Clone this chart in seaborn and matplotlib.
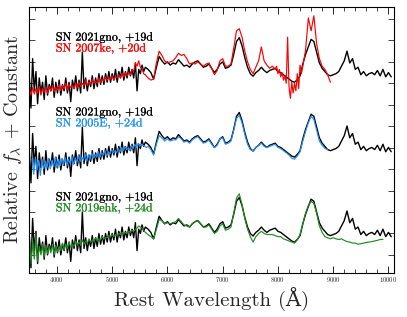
import numpy as np
import matplotlib
matplotlib.use('Agg')
import matplotlib.pyplot as plt
import matplotlib.patheffects as pe
import seaborn as sns
from matplotlib.ticker import MultipleLocator, NullFormatter

# SN 2021gno +19d, flux in the bottom panel's units (shifted up for the others)
gno_blue = [0.9, -0.6, 1.7, 0.2, 1.1, -0.4, 0.8, 0.1, 0.6, -0.2,
            0.9, 0.0, 0.5, 0.2, 0.8, -0.1, 0.6, 0.1, 0.7, 0.0,
            0.5, 0.2, 0.8, 0.1, 0.6, -0.3, 0.7, 0.3, 0.9, 0.2,
            0.7, 0.1, 2.0, 0.3, 0.8, 0.2, 0.7, 0.4, 0.9, 0.3,
            0.8, 0.4, 1.0, 0.5, 0.9, 0.5, 1.0, 0.6, 1.1, 0.6,
            1.0, 0.7, 1.2, 0.6, 1.1, 0.8, 1.3, 0.7, 1.1, 0.8,
            1.3, 0.9, 1.2, 0.8, 1.5, 0.2, 1.2, 1.0, 1.4, 1.1,
            1.3]
gno_red = [1.2, 1.05, 0.75, 1.3, 1.8, 1.6, 1.45, 1.55, 1.4, 1.5,
           1.45, 1.65, 1.5, 1.35, 1.4, 1.3, 1.45, 1.55, 1.6, 1.45,
           1.3, 1.35, 1.45, 1.25, 1.05, 1.2, 1.45, 1.55, 1.25, 1.3,
           1.4, 1.9, 2.5, 2.68, 2.3, 1.75, 1.3, 1.0, 0.88, 1.05,
           1.15, 1.3, 1.15, 1.05, 1.15, 1.2, 1.25, 1.1, 1.05, 0.95,
           0.85, 0.75, 0.65, 0.6, 0.72, 0.9, 1.45, 1.9, 2.25, 2.6,
           2.5, 2.0, 1.5, 1.25, 1.1, 0.95, 0.9, 0.95, 1.0, 1.1,
           1.35, 1.6, 2.05, 1.5, 1.7, 1.2, 1.3, 0.95, 1.1, 0.9,
           1.0, 1.05, 0.95, 1.15, 0.9, 1.2, 0.85, 1.05, 0.85]

# SN 2007ke +20d
ke_blue = [0.3, 0.0, 0.35, 0.05, 0.3, 0.1, 0.4, 0.0, 0.3, 0.15,
           0.35, 0.1, 0.4, 0.2, 0.45, 0.15, 0.35, 0.25, 0.5, 0.2,
           0.45, 0.3, 0.55, 0.25, 0.5, 0.35, 0.45, 0.3, 0.55, 0.35,
           0.6, 0.4, 0.55, 0.45, 0.7, 0.45, 0.6, 0.5, 0.75, 0.55,
           0.65, 0.55, 0.8, 0.6, 0.75, 0.65, 0.85, 0.7, 0.8, 0.75,
           0.9, 0.7, 0.85, 0.8, 0.95, 0.8, 1.0, 0.85, 1.05, 0.9,
           1.05, 0.95, 1.2, 1.1, 1.5, 1.35, 1.6, 1.3, 1.25, 1.0,
           0.95]
ke_mid = [0.8, 0.7, 0.75, 1.5, 2.05, 1.85, 1.6, 1.5, 1.55, 1.6,
          1.75, 1.95, 1.85, 1.9, 1.7, 1.45, 1.5, 1.45, 1.55, 1.45,
          1.35, 1.45, 1.5, 1.25, 0.95, 1.15, 1.6, 1.7, 1.35, 1.35,
          1.45, 2.2, 3.0, 3.1, 2.7, 2.05, 1.55, 1.2, 1.0, 1.3,
          1.6, 2.25, 1.6, 1.4, 1.25, 1.35]
ke_noisy = [1.2, 1.35, 1.0, 1.2, 0.85, 1.05, 0.7, 0.9, 0.55, 2.7,
            0.4, -0.15, 0.6, 0.1, 0.55, 0.2, 1.0, 0.3, 1.4, 1.0,
            1.35]
ke_red = [2.1, 3.6, 3.0, 3.7, 2.4, 1.7, 1.35, 1.2, 0.95, 0.6]

# SN 2005E +24d
e_blue = [0.5, -0.2, 0.6, 0.0, 0.45, -0.25, 0.5, 0.05, 0.4, 0.1,
          0.55, 0.05, 0.45, 0.15, 0.6, 0.1, 0.5, 0.2, 0.55, 0.25,
          0.6, 0.2, 0.5, 0.3, 0.65, 0.25, 0.55, 0.35, 0.7, 0.4,
          0.6, 0.45, 0.75, 0.4, 0.7, 0.5, 0.8, 0.55, 0.7, 0.6,
          0.85, 0.6, 0.8, 0.7, 0.9, 0.65, 0.85, 0.75, 0.95, 0.8,
          0.9, 0.8, 1.0, 0.85, 1.05, 0.9, 1.1, 0.95, 1.0, 0.9,
          1.15, 1.0, 1.2, 1.05, 1.25, 1.1, 1.2, 1.15, 1.1, 1.05]
e_red = [1.1, 0.95, 0.7, 1.2, 1.6, 1.5, 1.35, 1.45, 1.35, 1.4,
         1.4, 1.55, 1.45, 1.3, 1.35, 1.25, 1.4, 1.5, 1.55, 1.4,
         1.25, 1.3, 1.4, 1.2, 1.05, 1.15, 1.45, 1.5, 1.2, 1.25,
         1.35, 1.85, 2.4, 2.55, 2.2, 1.65, 1.2, 0.95, 0.9, 1.05,
         1.15, 1.25, 1.1, 1.05, 1.1, 1.15, 1.2, 1.05, 1.0, 0.9,
         0.8, 0.7, 0.55, 0.5, 0.65, 0.85, 1.35, 1.8, 2.2, 2.5,
         2.35, 1.85, 1.35, 1.15, 1.0, 0.95]

# SN 2019ehk +24d
ehk_blue = [0.9, -0.4, 0.6, -0.2, 1.0, -0.3, 0.4, 0.0, 0.5, -0.1,
            0.45, 0.05, 0.4, 0.1, 0.5, 0.0, 0.45, 0.15, 0.4, 0.2,
            0.55, 0.25, 0.5, 0.3, 0.6, 0.35, 0.5, 0.4, 0.65, 0.45,
            0.6, 0.45, 0.7, 0.5, 0.65, 0.55, 0.75, 0.6, 0.7, 0.65,
            0.8, 0.65, 0.75, 0.7, 0.85, 0.75, 0.8, 0.8, 0.9, 0.85,
            0.95, 0.85, 0.95, 0.9, 1.0, 0.95, 1.05, 1.0, 1.05, 1.0,
            1.1, 1.05, 1.15, 1.1, 1.2, 1.25, 1.35, 1.3, 1.25, 1.15,
            1.05]
ehk_red = [0.95, 0.85, 0.75, 1.2, 1.65, 1.6, 1.45, 1.5, 1.45, 1.5,
           1.55, 1.7, 1.55, 1.4, 1.35, 1.3, 1.45, 1.55, 1.6, 1.45,
           1.3, 1.3, 1.4, 1.2, 1.0, 1.1, 1.35, 1.45, 1.15, 1.2,
           1.3, 1.95, 2.65, 2.85, 2.35, 1.7, 1.2, 0.85, 0.6, 0.85,
           1.0, 1.1, 1.0, 0.95, 0.95, 0.95, 0.9, 0.85, 0.85, 0.75,
           0.7, 0.65, 0.6, 0.55, 0.7, 0.95, 1.45, 1.95, 2.3, 2.5,
           2.4, 1.95, 1.35, 1.05, 0.85, 0.8, 0.75, 0.8, 0.75, 0.72,
           0.75, 0.68, 0.62, 0.6, 0.55, 0.55, 0.5, 0.52, 0.55, 0.58,
           0.6, 0.62, 0.65, 0.68, 0.72, 0.72]

# panel offsets (top, middle, bottom) and labels
offsets = [7.45, 3.96, 0.0]
comp_names = ['SN 2007ke, +20d', 'SN 2005E, +24d', 'SN 2019ehk, +24d']
comp_colors = ['#ff0000', '#1e90ff', '#228b22']
ref_name = 'SN 2021gno, +19d'


def spec(*segs):
    # each segment: (flux values, first wavelength, last wavelength)
    w = np.concatenate([np.linspace(a, b, len(v)) for v, a, b in segs])
    f = np.concatenate([np.array(v, dtype=float) for v, a, b in segs])
    return w, f


gno_w, gno_f = spec((gno_blue, 3500, 5600), (gno_red, 5650, 10050))
comps = [spec((ke_blue, 3500, 5600), (ke_mid, 5650, 7900),
              (ke_noisy, 7950, 8450), (ke_red, 8500, 8950)),
         spec((e_blue, 3550, 5620), (e_red, 5650, 8900)),
         spec((ehk_blue, 3500, 5600), (ehk_red, 5650, 9900))]

sns.set_style('ticks')
plt.rcParams['font.family'] = ['cmr10', 'DejaVu Serif']
plt.rcParams['mathtext.fontset'] = 'cm'
plt.rcParams['axes.unicode_minus'] = False
plt.rcParams['axes.formatter.use_mathtext'] = True

fig = plt.figure(figsize=(4.07, 3.17), dpi=100)
ax = fig.add_axes([0.072, 0.139, 0.896, 0.839])

for off, (cw, cf), name, col in zip(offsets, comps, comp_names, comp_colors):
    sns.lineplot(x=gno_w, y=gno_f + off, ax=ax, color='black', lw=1.0,
                 estimator=None, sort=False)
    sns.lineplot(x=cw, y=cf + off, ax=ax, color=col, lw=0.85,
                 estimator=None, sort=False)
    for txt, c, dy in [(ref_name, 'black', 2.68), (name, col, 2.17)]:
        ax.text(3980, off + dy, txt, color=c, fontsize=8.6, va='center',
                ha='left',
                path_effects=[pe.withStroke(linewidth=0.15, foreground=c)])

ax.set_xlim(3500, 10100)
ax.set_ylim(-0.84, 11.56)
ax.xaxis.set_major_locator(MultipleLocator(1000))
ax.xaxis.set_minor_locator(MultipleLocator(200))
ax.yaxis.set_major_locator(MultipleLocator(1))
ax.yaxis.set_major_formatter(NullFormatter())
ax.tick_params(axis='x', which='both', direction='in', top=True,
               labelsize=4.8, pad=1.5)
ax.tick_params(axis='x', which='major', length=5, width=0.7)
ax.tick_params(axis='x', which='minor', length=3, width=0.6)
ax.tick_params(axis='y', which='major', direction='in', right=True,
               length=4, width=0.6)
for s in ax.spines.values():
    s.set_linewidth(0.8)
    s.set_color('black')

ax.set_xlabel('Rest Wavelength (\u00c5)', fontsize=15, labelpad=2)
ax.set_ylabel(r'Relative $f_\lambda$ + Constant', fontsize=14.5, labelpad=0)

fig.savefig('out.png', dpi=100)
